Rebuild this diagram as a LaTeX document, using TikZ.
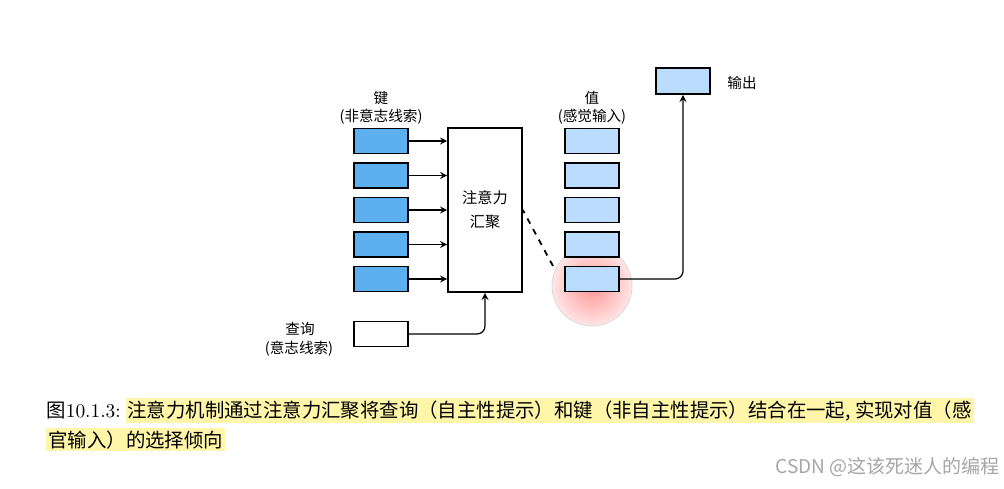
\documentclass[tikz,border=0pt]{standalone}
\usepackage{fontspec}
\newfontfamily\cjk{Noto Sans CJK SC}
\usepackage{tikz}
\usetikzlibrary{positioning, arrows}
\usepackage{xcolor}

\definecolor{keyblue}{RGB}{92,176,240}
\definecolor{valblue}{RGB}{186,220,255}
\definecolor{hlyellow}{RGB}{255,246,170}

\tikzset{
    keybox/.style={draw, line width=0.8pt, fill=keyblue, minimum width=27pt, minimum height=12.5pt, inner sep=0pt},
    valbox/.style={keybox, fill=valblue},
    poolbox/.style={draw, line width=0.8pt, fill=white, minimum width=37pt, minimum height=82pt, align=center, font=\cjk\fontsize{7.6}{11}\selectfont},
    lbl/.style={inner sep=0pt, font=\cjk\fontsize{7.3}{9}\selectfont},
    captext/.style={inner sep=0pt, font=\fontsize{9.7}{12}\selectfont},
    hl/.style={fill=hlyellow, inner xsep=1pt, inner ysep=1.2pt, font=\cjk\fontsize{9.7}{12}\selectfont},
    link/.style={->, >=stealth, line width=0.6pt}
}

\begin{document}
\begin{tikzpicture}[x=0.5pt, y=-0.5pt, node distance=17.25pt, on grid]
    \fill[white] (0,0) rectangle (1004,488);
    \useasboundingbox (0,0) rectangle (1004,488);

    % keys
    \node[keybox] (k1) at (381,141) {};
    \node[keybox] (k2) [below=of k1] {};
    \node[keybox] (k3) [below=of k2] {};
    \node[keybox] (k4) [below=of k3] {};
    \node[keybox] (k5) [below=of k4] {};
    \node[lbl] (keytitle) at (381,98) {键};
    \node[lbl] (keynote) at (381,117) {(非意志线索)};

    % attention pooling
    \node[poolbox] (pool) at (485,210) {注意力\\[1pt]汇聚};

    % values
    \shade[inner color=red!42, outer color=red!10] (592,286) circle (40);
    \draw[gray!25, line width=0.5pt] (592,286) circle (40);
    \node[valbox] (v1) at (592,141) {};
    \node[valbox] (v2) [below=of v1] {};
    \node[valbox] (v3) [below=of v2] {};
    \node[valbox] (v4) [below=of v3] {};
    \node[valbox] (v5) [below=of v4] {};
    \node[lbl] (valtitle) at (592,98) {值};
    \node[lbl] (valnote) at (592,117) {(感觉输入)};

    % query and output
    \node[keybox, fill=white] (query) at (381,334) {};
    \node[lbl] (qtitle) at (300,329) {查询};
    \node[lbl] (qnote) at (299,349) {(意志线索)};
    \node[valbox, minimum height=13pt] (out) at (683,81) {};
    \node[lbl] (outlbl) at (742,83) {输出};

    \path[link]
        (k1) edge (k1 -| pool.west)
        (k2) edge (k2 -| pool.west)
        (k3) edge (k3 -| pool.west)
        (k4) edge (k4 -| pool.west)
        (k5) edge (k5 -| pool.west);
    \draw[link, rounded corners=4pt] (query.east) -| (pool.south);
    \draw[link, rounded corners=4pt] (v5.east) -| (out.south);

    \coordinate (hit) at (553,266);
    \draw[dashed, line width=0.9pt] (hit) -- (pool.east);

    % caption
    \node[captext, anchor=base west] (capno) at (46,417) {{\cjk 图}10.1.3:};
    \node[hl, anchor=base west] (cap1) at ([xshift=2pt]capno.base east) {注意力机制通过注意力汇聚将查询（自主性提示）和键（非自主性提示）结合在一起, 实现对值（感};
    \node[hl, anchor=base west] (cap2) at (46,447) {官输入）的选择倾向};

    \node[inner sep=0pt, anchor=east, text=gray!70, font=\cjk\fontsize{9.5}{11}\selectfont] (mark) at (1000,467) {CSDN @这该死迷人的编程};
\end{tikzpicture}
\end{document}
